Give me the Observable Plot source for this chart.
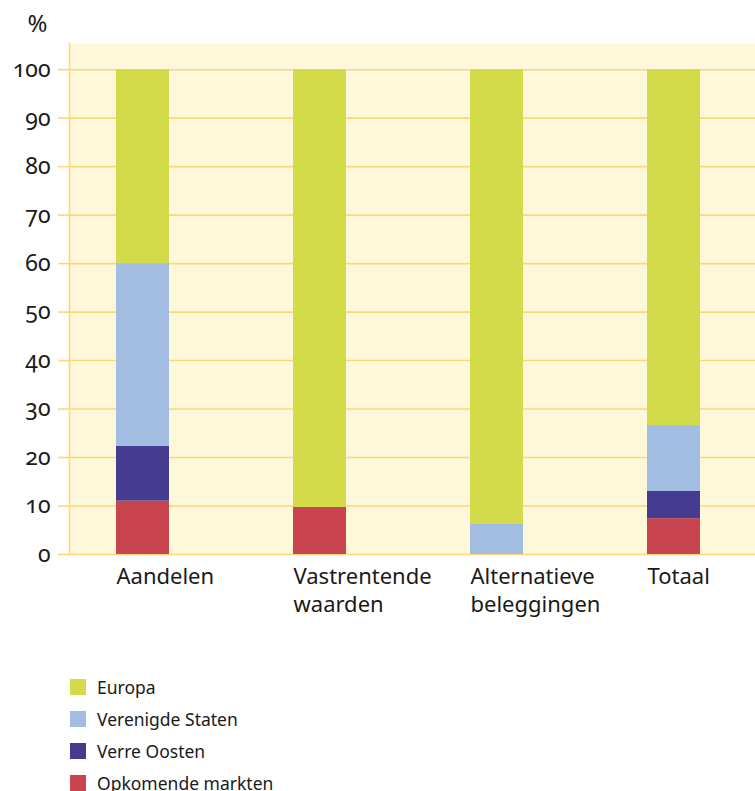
<!DOCTYPE html>
<html>
<head>
<meta charset="utf-8">
<script src="https://cdn.jsdelivr.net/npm/d3@7"></script>
<script src="https://cdn.jsdelivr.net/npm/@observablehq/plot@0.6"></script>
<style>
  html, body { margin: 0; padding: 0; background: #fff; }
  body { width: 755px; height: 791px; overflow: hidden; font-family: "Noto Sans", Lato, sans-serif; }
  #chart svg { display: block; font-variant-numeric: oldstyle-nums; font-feature-settings: "onum" 1; }
  #legend { margin-left: 70px; margin-top: 31px; }
  .row { display: flex; align-items: center; height: 32px; font-size: 17.5px; color: #1a1a1a; }
  .sw { width: 16px; height: 16px; margin-right: 11px; }
</style>
</head>
<body>
<div id="chart"></div>
<div id="legend"></div>
<script>
const categories = ["Aandelen", "Vastrentende waarden", "Alternatieve beleggingen", "Totaal"];
const axisLabels = ["Aandelen", "Vastrentende\nwaarden", "Alternatieve\nbeleggingen", "Totaal"];
const series = ["Opkomende markten", "Verre Oosten", "Verenigde Staten", "Europa"];
const opkomende = [11, 9.7, 0, 7.4];
const verreOosten = [11.3, 0, 0, 5.6];
const verenigdeStaten = [37.7, 0, 6.2, 13.6];
const europa = [40, 90.3, 93.8, 73.4];
const yTicks = [0, 10, 20, 30, 40, 50, 60, 70, 80, 90, 100];
const colors = ["#C8454F", "#453B91", "#A3BDE2", "#D4DB4A"];
const legendOrder = ["Europa", "Verenigde Staten", "Verre Oosten", "Opkomende markten"];

const values = [opkomende, verreOosten, verenigdeStaten, europa];
const data = [];
series.forEach((s, si) => categories.forEach((c, ci) => data.push({cat: c, serie: s, v: values[si][ci]})));

const grid = "#FDD67A";
const chart = Plot.plot({
  width: 755,
  height: 640,
  marginLeft: 69,
  marginRight: 0,
  marginTop: 43,
  marginBottom: 86,
  style: {fontFamily: "'Noto Sans', Lato, sans-serif", fontSize: "20px", color: "#1a1a1a", background: "#fff"},
  x: {domain: categories, range: [54, 762], paddingInner: 0.7, paddingOuter: 0.35, align: 0.5},
  y: {domain: [0, 105.4]},
  color: {domain: series, range: colors},
  marks: [
    Plot.frame({fill: "#FEF8DA", stroke: null}),
    Plot.ruleY(yTicks, {stroke: grid, strokeWidth: 1.6}),
    Plot.frame({anchor: "left", stroke: grid, strokeWidth: 1.6}),
    Plot.axisY({ticks: yTicks, tickSize: 11, tickPadding: 8, stroke: grid, strokeWidth: 1.6, strokeOpacity: 1, label: null, fontSize: 23, fill: "#1a1a1a"}),
    Plot.barY(data, {x: "cat", y: "v", fill: "serie", order: series}),
    Plot.axisX({tickSize: 0, tickPadding: 10, textAnchor: "start", dx: -26.5, lineHeight: 1.27, fontSize: 22, fill: "#1a1a1a", label: null,
      tickFormat: d => axisLabels[categories.indexOf(d)]}),
    Plot.text(["%"], {frameAnchor: "top-left", dx: -42, dy: -29, fontSize: 24, fill: "#1a1a1a", text: d => d})
  ]
});
document.getElementById("chart").appendChild(chart);

const legend = document.getElementById("legend");
legendOrder.forEach(name => {
  const row = document.createElement("div");
  row.className = "row";
  const sw = document.createElement("div");
  sw.className = "sw";
  sw.style.background = colors[series.indexOf(name)];
  const t = document.createElement("span");
  t.textContent = name;
  row.appendChild(sw); row.appendChild(t);
  legend.appendChild(row);
});
</script>
</body>
</html>
